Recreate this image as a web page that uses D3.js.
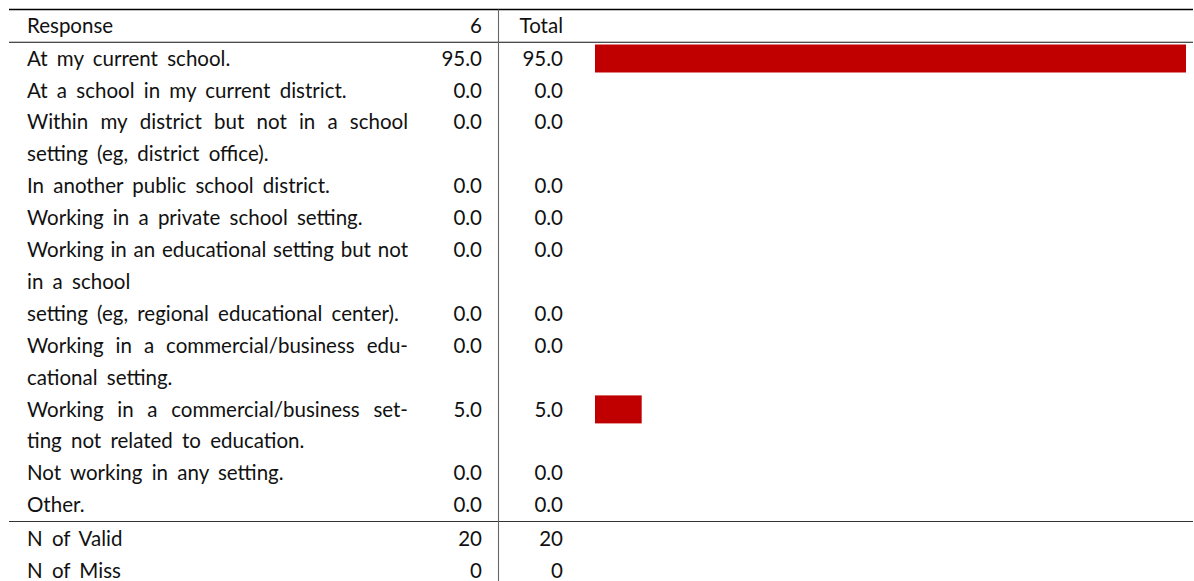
<!DOCTYPE html>
<html>
<head>
<meta charset="utf-8">
<script src="https://cdn.jsdelivr.net/npm/d3@7"></script>
<style>
  html, body { margin: 0; padding: 0; background: #fff; }
  svg { display: block; }
  text { font-family: Lato, "Liberation Sans", sans-serif; fill: #111; }
</style>
</head>
<body>
<svg id="chart" width="1194" height="581"></svg>
<script>
// ---- data ----
const headers = ["Response", "6", "Total"];
// each response label as its typeset lines; justified flags per line
const responseLines = [
  ["At my current school."],
  ["At a school in my current district."],
  ["Within my district but not in a school", "setting (eg, district office)."],
  ["In another public school district."],
  ["Working in a private school setting."],
  ["Working in an educational setting but not", "in a school"],
  ["setting (eg, regional educational center)."],
  ["Working in a commercial/business edu-", "cational setting."],
  ["Working in a commercial/business set-", "ting not related to education."],
  ["Not working in any setting."],
  ["Other."]
];
const justifiedLines = [
  [false], [false], [true, false], [false], [false], [true, false],
  [false], [true, false], [true, false], [false], [false]
];
const values6 = [95.0, 0.0, 0.0, 0.0, 0.0, 0.0, 0.0, 0.0, 5.0, 0.0, 0.0];
const valuesTotal = [95.0, 0.0, 0.0, 0.0, 0.0, 0.0, 0.0, 0.0, 5.0, 0.0, 0.0];
const footerLabels = ["N of Valid", "N of Miss"];
const footer6 = [20, 0];
const footerTotal = [20, 0];

// ---- layout ----
const W = 1194, H = 581;
const fontSize = 20.5;
const wordSpacing = 4;
const leftX = 27, labelRight = 408;
const col6Right = 482, colTotalRight = 563, vLineX = 498.5;
const ruleX0 = 9, ruleX1 = 1193;
const topRuleY = 9.5, headerY = 26, headerRuleY = 42.3, footRuleY = 521.5;
const barColor = "#C00000", barH = 28;

const svg = d3.select("#chart");

// line index -> y (body)
const lineY = d3.scaleLinear().domain([0, 1]).range([58.5, 90.4]);
const footY = d3.scaleLinear().domain([0, 1]).range([538.5, 570.4]);
// bar length scale
const xBar = d3.scaleLinear().domain([-2.72, 95]).range([595, 1186]);
const fmt = d3.format(".1f");

// compute row starting line indices
let acc = 0;
const rows = responseLines.map((lines, i) => {
  const r = { lines, just: justifiedLines[i], v6: values6[i], vT: valuesTotal[i], start: acc };
  acc += lines.length;
  return r;
});

// rules
svg.append("line").attr("x1", ruleX0).attr("x2", ruleX1).attr("y1", topRuleY).attr("y2", topRuleY)
  .attr("stroke", "#000").attr("stroke-width", 1.4);
svg.append("line").attr("x1", ruleX0).attr("x2", ruleX1).attr("y1", headerRuleY).attr("y2", headerRuleY)
  .attr("stroke", "#111").attr("stroke-width", 1.1);
svg.append("line").attr("x1", ruleX0).attr("x2", ruleX1).attr("y1", footRuleY).attr("y2", footRuleY)
  .attr("stroke", "#333").attr("stroke-width", 1.1);
svg.append("line").attr("x1", vLineX).attr("x2", vLineX).attr("y1", topRuleY).attr("y2", H)
  .attr("stroke", "#666").attr("stroke-width", 1.1);

function txt(x, y, s, anchor) {
  return svg.append("text").attr("x", x).attr("y", y).attr("dy", "0.35em")
    .attr("font-size", fontSize).attr("text-anchor", anchor || "start")
    .style("word-spacing", wordSpacing + "px").text(s);
}

// header
txt(leftX, headerY, headers[0]);
txt(col6Right, headerY, headers[1], "end");
txt(colTotalRight, headerY, headers[2], "end");

// body
rows.forEach(r => {
  r.lines.forEach((ln, j) => {
    const y = lineY(r.start + j);
    if (r.just[j]) {
      const words = ln.split(" ");
      const nodes = words.map(w => txt(leftX, y, w));
      const widths = nodes.map(n => n.node().getComputedTextLength());
      const total = d3.sum(widths);
      const gap = (labelRight - leftX - total) / (words.length - 1);
      let x = leftX;
      nodes.forEach((n, k) => { n.attr("x", x); x += widths[k] + gap; });
    } else {
      txt(leftX, y, ln);
    }
  });
  const y0 = lineY(r.start);
  txt(col6Right, y0, fmt(r.v6), "end");
  txt(colTotalRight, y0, fmt(r.vT), "end");
});

// bars
svg.append("g").selectAll("rect")
  .data(rows.filter(r => r.vT > 0))
  .join("rect")
  .attr("x", xBar.range()[0])
  .attr("y", r => lineY(r.start) - barH / 2)
  .attr("width", r => xBar(r.vT) - xBar.range()[0])
  .attr("height", barH)
  .attr("fill", barColor);

// footer
footerLabels.forEach((lab, i) => {
  const y = footY(i);
  txt(leftX, y, lab);
  txt(col6Right, y, String(footer6[i]), "end");
  txt(colTotalRight, y, String(footerTotal[i]), "end");
});
</script>
</body>
</html>
